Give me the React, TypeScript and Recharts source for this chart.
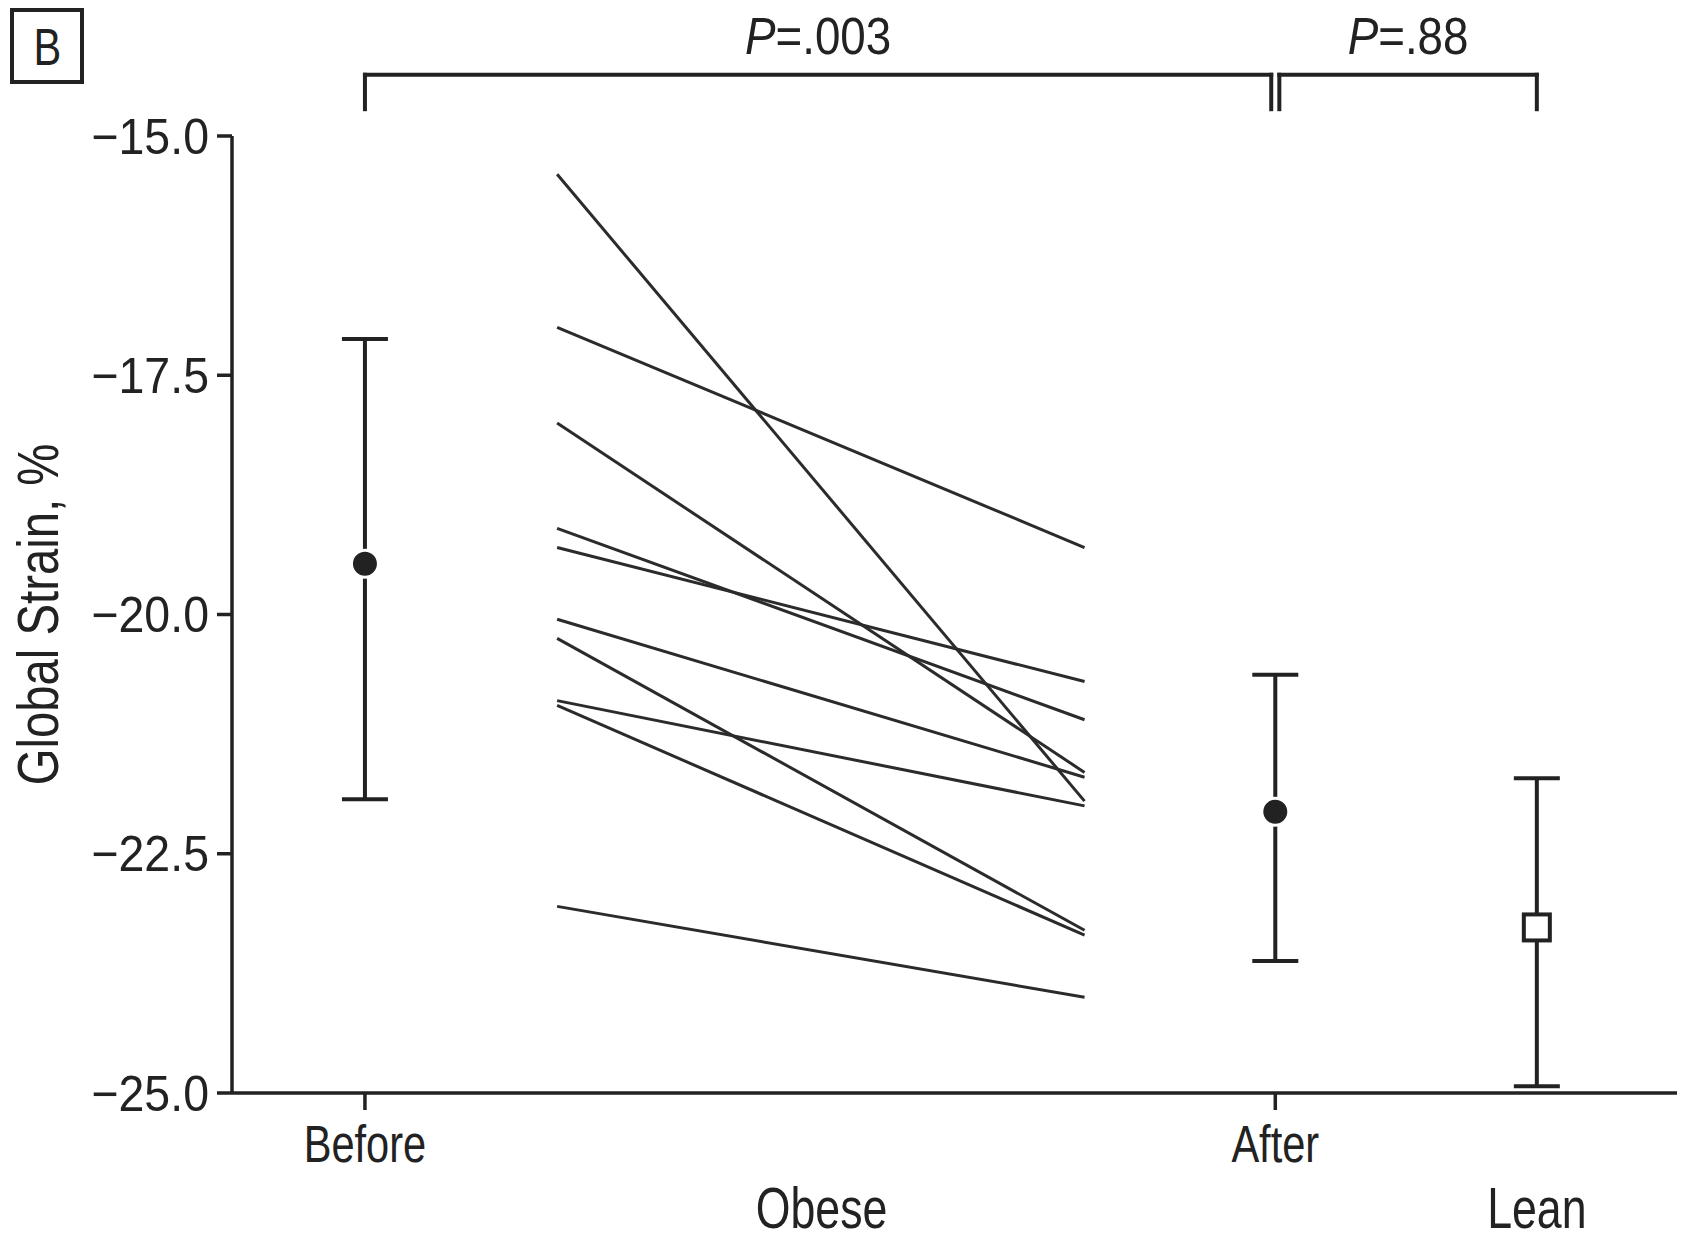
import React from 'react'
import {
  ComposedChart, Line, Scatter, ErrorBar, XAxis, YAxis, ReferenceLine,
} from 'recharts'

document.body.style.margin = '0'

// ─── Data ─────────────────────────────────────────────────────────────────────

// paired global strain (%) for each obese subject
const OBESE_BEFORE = [-15.4, -17.0, -18.0, -19.1, -19.3, -20.05, -20.25, -20.9, -20.95, -23.05]
const OBESE_AFTER = [-21.95, -19.3, -21.65, -21.1, -20.7, -21.7, -23.3, -22.0, -23.35, -24.0]

// group summaries: mean with error bar limits
const SUMMARY_NAMES = ['Before', 'After', 'Lean']
const SUMMARY_MEAN = [-19.47, -22.06, -23.27]
const SUMMARY_LOW = [-21.93, -23.62, -24.93]
const SUMMARY_HIGH = [-17.12, -20.63, -21.71]

const Y_TICKS = [-25, -22.5, -20, -17.5, -15]
const X_LABELS = ['Before', 'Obese', 'After', 'Lean']
const P_VALUES = ['.003', '.88']

// ─── Layout ───────────────────────────────────────────────────────────────────

const INK = '#222'
const FONT = '"Liberation Sans", Arial, Helvetica, sans-serif'

const X_POS: Record<string, number> = { Before: 9.2, Obese: 40.8, After: 72.2, Lean: 90.3 }
const X_ROW: Record<string, number> = { Before: 1, Obese: 2, After: 1, Lean: 2 }
const SUBJECT_X = [22.5, 59.0]
const BRACKET_LOW = -14.72
const BRACKET_HIGH = -14.36
const BRACKET_GAP = 0.28

const fmtY = (v: number) => (v < 0 ? '\u2212' : '') + Math.abs(v).toFixed(1)

// ─── Pieces ───────────────────────────────────────────────────────────────────

// condensed text: regular sans squeezed horizontally (figure uses Helvetica Condensed)
function CondText({ x, y, size, sx = 0.8, anchor = 'middle', rotate = 0, children }: {
  x: number; y: number; size: number; sx?: number; anchor?: string; rotate?: number
  children: React.ReactNode
}) {
  return (
    <text
      transform={`translate(${x} ${y}) rotate(${rotate}) scale(${sx} 1)`}
      textAnchor={anchor}
      fontFamily={FONT}
      fontSize={size}
      fill={INK}
    >
      {children}
    </text>
  )
}

function XTick(props: any) {
  const { x, y, payload } = props
  const name = X_LABELS.find((n) => X_POS[n] === payload.value) ?? ''
  const row = X_ROW[name]
  return (
    <g>
      {row === 1 && <line x1={x} x2={x} y1={y} y2={y + 17} stroke={INK} strokeWidth={3.5} />}
      {row === 1
        ? <CondText x={x} y={y + 69} size={52} sx={0.8}>{name}</CondText>
        : <CondText x={x} y={y + 135} size={58} sx={0.77}>{name}</CondText>}
    </g>
  )
}

function YTick(props: any) {
  const { x, y, payload } = props
  return (
    <CondText x={x} y={y + 17.5} size={50} sx={0.93} anchor="end">
      {fmtY(payload.value)}
    </CondText>
  )
}

function YLabel(props: any) {
  const vb = props.viewBox
  return (
    <CondText x={vb.x + 58} y={vb.y + vb.height / 2} size={57} sx={0.83} rotate={-90}>
      Global Strain, %
    </CondText>
  )
}

const pLabel = (value: string) => (props: any) => {
  const vb = props.viewBox
  return (
    <CondText x={vb.x + vb.width / 2} y={vb.y - 21} size={52} sx={0.88}>
      <tspan fontStyle="italic">P</tspan>
      <tspan>{`=${value}`}</tspan>
    </CondText>
  )
}

const Dot = (p: any) => (
  <circle cx={p.cx} cy={p.cy} r={13.5} fill={INK} stroke="#fff" strokeWidth={3} />
)

const OpenSquare = (p: any) => (
  <rect x={p.cx - 13} y={p.cy - 13} width={26} height={26} fill="#fff" stroke={INK} strokeWidth={4} />
)

// ─── App ──────────────────────────────────────────────────────────────────────

export default function App() {
  const summary = SUMMARY_NAMES.map((name, i) => ({
    name,
    x: X_POS[name],
    y: SUMMARY_MEAN[i],
    err: [SUMMARY_MEAN[i] - SUMMARY_LOW[i], SUMMARY_HIGH[i] - SUMMARY_MEAN[i]],
  }))

  const brackets = [
    { from: X_POS.Before, to: X_POS.After - BRACKET_GAP, p: P_VALUES[0] },
    { from: X_POS.After + BRACKET_GAP, to: X_POS.Lean, p: P_VALUES[1] },
  ]

  return (
    <div style={{ position: 'relative', width: 1683, height: 1235, background: '#fff' }}>
      <div style={{
        position: 'absolute', left: 10, top: 8, width: 74, height: 76,
        border: `4px solid ${INK}`, boxSizing: 'border-box',
        fontFamily: FONT, fontSize: 52, color: INK, lineHeight: '70px', textAlign: 'center',
      }}>
        <span style={{ display: 'inline-block', transform: 'scaleX(0.8)' }}>B</span>
      </div>

      <ComposedChart width={1683} height={1235} margin={{ top: 136, right: 6, bottom: 0, left: 0 }}>
        <XAxis
          type="number"
          dataKey="x"
          domain={[0, 100]}
          ticks={X_LABELS.map((n) => X_POS[n])}
          interval={0}
          tickSize={0}
          tickMargin={0}
          tickLine={false}
          tick={XTick}
          axisLine={{ stroke: INK, strokeWidth: 3.5 }}
          height={142}
        />
        <YAxis
          type="number"
          dataKey="y"
          domain={[-25, -15]}
          ticks={Y_TICKS}
          interval={0}
          width={232}
          tickSize={15}
          tickMargin={8}
          tick={YTick}
          axisLine={{ stroke: INK, strokeWidth: 3.5 }}
          tickLine={{ stroke: INK, strokeWidth: 3.5 }}
          label={YLabel}
        />

        {brackets.map((b) => (
          <React.Fragment key={b.p}>
            <ReferenceLine
              segment={[{ x: b.from, y: BRACKET_LOW }, { x: b.from, y: BRACKET_HIGH }]}
              ifOverflow="visible" stroke={INK} strokeWidth={4} strokeLinecap="square"
            />
            <ReferenceLine
              segment={[{ x: b.from, y: BRACKET_HIGH }, { x: b.to, y: BRACKET_HIGH }]}
              ifOverflow="visible" stroke={INK} strokeWidth={4} strokeLinecap="square"
              label={pLabel(b.p)}
            />
            <ReferenceLine
              segment={[{ x: b.to, y: BRACKET_HIGH }, { x: b.to, y: BRACKET_LOW }]}
              ifOverflow="visible" stroke={INK} strokeWidth={4} strokeLinecap="square"
            />
          </React.Fragment>
        ))}

        {OBESE_BEFORE.map((before, i) => (
          <Line
            key={i}
            data={[{ x: SUBJECT_X[0], y: before }, { x: SUBJECT_X[1], y: OBESE_AFTER[i] }]}
            dataKey="y"
            stroke="#2b2b2b"
            strokeWidth={3}
            dot={false}
            activeDot={false}
            isAnimationActive={false}
          />
        ))}

        <Scatter data={summary.slice(0, 2)} shape={Dot} isAnimationActive={false}>
          <ErrorBar dataKey="err" direction="y" width={23} strokeWidth={4} stroke={INK} />
        </Scatter>
        <Scatter data={summary.slice(2)} shape={OpenSquare} isAnimationActive={false}>
          <ErrorBar dataKey="err" direction="y" width={23} strokeWidth={4} stroke={INK} />
        </Scatter>
      </ComposedChart>
    </div>
  )
}
